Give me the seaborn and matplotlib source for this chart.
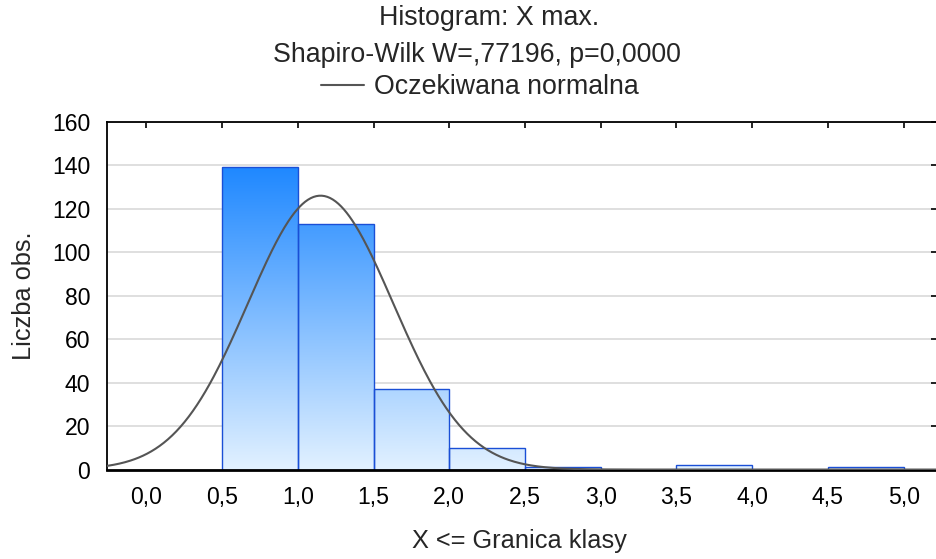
import numpy as np
import pandas as pd
import matplotlib
matplotlib.use("Agg")
import matplotlib.pyplot as plt
import seaborn as sns
from matplotlib.colors import LinearSegmentedColormap

# Histogram classes (upper class limits) and observed counts
bin_edges = [0.5, 1.0, 1.5, 2.0, 2.5, 3.0, 3.5, 4.0, 4.5, 5.0]
bin_counts = [139, 113, 37, 10, 1, 0, 2, 0, 1]

# Parameters of the fitted (expected) normal distribution
normal_mean = 1.15
normal_sd = 0.48

x_ticks = [0.0, 0.5, 1.0, 1.5, 2.0, 2.5, 3.0, 3.5, 4.0, 4.5, 5.0]
x_tick_labels = ["0,0", "0,5", "1,0", "1,5", "2,0", "2,5", "3,0", "3,5", "4,0", "4,5", "5,0"]
y_ticks = [0, 20, 40, 60, 80, 100, 120, 140, 160]

title_text = "Histogram: X max."
subtitle_text = "Shapiro-Wilk W=,77196, p=0,0000"
legend_text = "Oczekiwana normalna"
x_label = "X <= Granica klasy"
y_label = "Liczba obs."

sns.set_style("white")
plt.rcParams["font.family"] = ["Liberation Sans", "DejaVu Sans"]

TITLE_FS = 19.3
AXLABEL_FS = 18.3
TICK_FS = 16.6

x_min, x_max = -0.26, 5.22

fig = plt.figure(figsize=(9.37, 5.59), dpi=100)
ax = fig.add_axes([0.1142, 0.160, 1.0 - 0.1142, 0.7826 - 0.160])

df = pd.DataFrame({
    "centre": [(a + b) / 2 for a, b in zip(bin_edges[:-1], bin_edges[1:])],
    "count": bin_counts,
})

sns.histplot(data=df, x="centre", weights="count", bins=bin_edges, ax=ax,
             color="#1f88ff", edgecolor="#1a4fd6", linewidth=1.0, alpha=1.0,
             zorder=2)

# Vertical blue gradient shared by all bars, clipped to each bar
cmap = LinearSegmentedColormap.from_list("bluegrad", ["#e2f1ff", "#1f88ff"])
grad = np.linspace(0, 1, 256).reshape(-1, 1)
top_val = max(bin_counts)
for patch in list(ax.patches):
    patch.set_facecolor("none")
    if patch.get_height() <= 0:
        continue
    img = ax.imshow(grad, extent=[x_min, x_max, 0, top_val], origin="lower",
                    aspect="auto", cmap=cmap, zorder=1.5, interpolation="bilinear")
    img.set_clip_path(patch)

# Expected normal curve scaled to counts
n_total = sum(bin_counts)
bin_width = bin_edges[1] - bin_edges[0]
xs = np.linspace(x_min, x_max, 600)
ys = n_total * bin_width / (normal_sd * np.sqrt(2 * np.pi)) * \
    np.exp(-0.5 * ((xs - normal_mean) / normal_sd) ** 2)
sns.lineplot(x=xs, y=ys, ax=ax, color="#555555", linewidth=1.5,
             label=legend_text, zorder=3)

ax.set_xlim(x_min, x_max)
ax.set_ylim(0, 160)
ax.set_xticks(x_ticks)
ax.set_xticklabels(x_tick_labels)
ax.set_yticks(y_ticks)

ax.yaxis.grid(True, color="#d9d9d9", linewidth=1.2)
ax.xaxis.grid(False)
ax.set_axisbelow(True)

for side, sp in ax.spines.items():
    sp.set_visible(True)
    sp.set_color("black")
    sp.set_linewidth(1.3)
ax.spines["bottom"].set_linewidth(2.0)

ax.tick_params(axis="both", which="major", direction="in", length=4, width=1.2,
               colors="black", labelsize=TICK_FS, top=True, right=True)
ax.tick_params(axis="x", pad=12)
ax.tick_params(axis="y", pad=12)

ax.set_xlabel(x_label, fontsize=AXLABEL_FS)
ax.set_ylabel(y_label, fontsize=AXLABEL_FS)
ax.xaxis.set_label_coords(0.497, -0.172)
ax.yaxis.set_label_coords(-0.086, 0.5)

fig.text(489 / 937, 1 - 25 / 559, title_text, ha="center", va="baseline",
         fontsize=TITLE_FS)
fig.text(477 / 937, 1 - 62 / 559, subtitle_text, ha="center", va="baseline",
         fontsize=TITLE_FS)
ax.legend(loc="center", bbox_to_anchor=(480 / 937, 1 - 87 / 559),
          bbox_transform=fig.transFigure, frameon=False, handlelength=1.6,
          handletextpad=0.35, fontsize=TITLE_FS, borderpad=0)

fig.savefig("out.png", dpi=100)
